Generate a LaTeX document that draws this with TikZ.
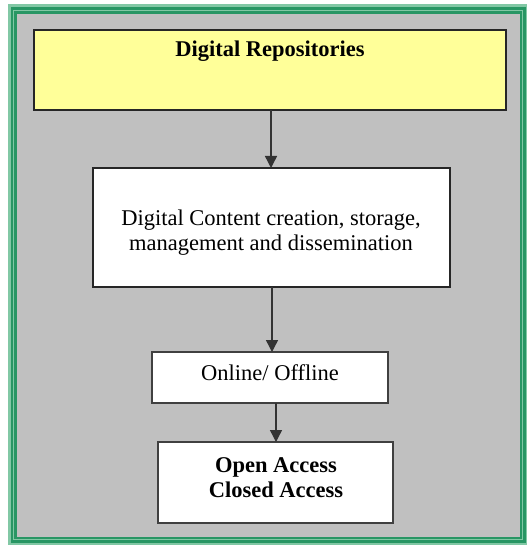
\documentclass[tikz,border=0pt]{standalone}
\usepackage{fontspec}
\setmainfont{Liberation Serif}
\usetikzlibrary{arrows.meta}
\definecolor{gdark}{RGB}{40,150,100}
\definecolor{glight}{RGB}{130,200,165}
\definecolor{panel}{RGB}{192,192,192}
\definecolor{ylw}{RGB}{255,255,153}
\tikzset{
  box/.style={draw=black!85, line width=2pt, inner sep=0pt},
  thinbox/.style={draw=black!75, line width=1.2pt, inner sep=0pt},
  txt/.style={font=\fontsize{22.5}{25}\selectfont, align=center},
  btxt/.style={font=\fontsize{22.5}{25}\selectfont\bfseries, align=center},
  conn/.style={draw=black!80, line width=1.4pt, -{Triangle[length=12pt,width=12pt]}}
}
\begin{document}
\begin{tikzpicture}[x=1pt,y=-1pt]
\useasboundingbox (0,0) rectangle (527,545);
\fill[white] (0,0) rectangle (527,545);
% frame
\fill[glight] (8,4) rectangle (527,545);
\fill[gdark] (11,7) rectangle (526,543);
\fill[glight] (13,10) rectangle (523,540);
\fill[gdark] (14,11) rectangle (522,539);
\fill[panel] (17,14) rectangle (520,537);
% boxes
\draw[box, fill=ylw] (34,30) rectangle (506,110);
\node[btxt] (repo) at (270,51) {Digital Repositories};
\coordinate (repob) at (271,110);
\draw[box, fill=white] (93,168) rectangle (450,287);
\coordinate (contt) at (271,168);
\coordinate (contb) at (272,287);
\node[txt] (cont) at (271,233) {Digital Content creation, storage,\\management and dissemination};
\draw[thinbox, fill=white] (152,352) rectangle (388,403);
\coordinate (onlt) at (272,352);
\coordinate (onlb) at (276,403);
\node[txt] (onl) at (270,373) {Online/ Offline};
\draw[thinbox, fill=white] (158,442) rectangle (393,523);
\coordinate (acct) at (276,442);
\node[btxt] (acc) at (276,478) {Open Access\\Closed Access};
% connectors
\draw[conn] (repob) -- (contt);
\draw[conn] (contb) -- (onlt);
\draw[conn] (onlb) -- (acct);
\end{tikzpicture}
\end{document}
